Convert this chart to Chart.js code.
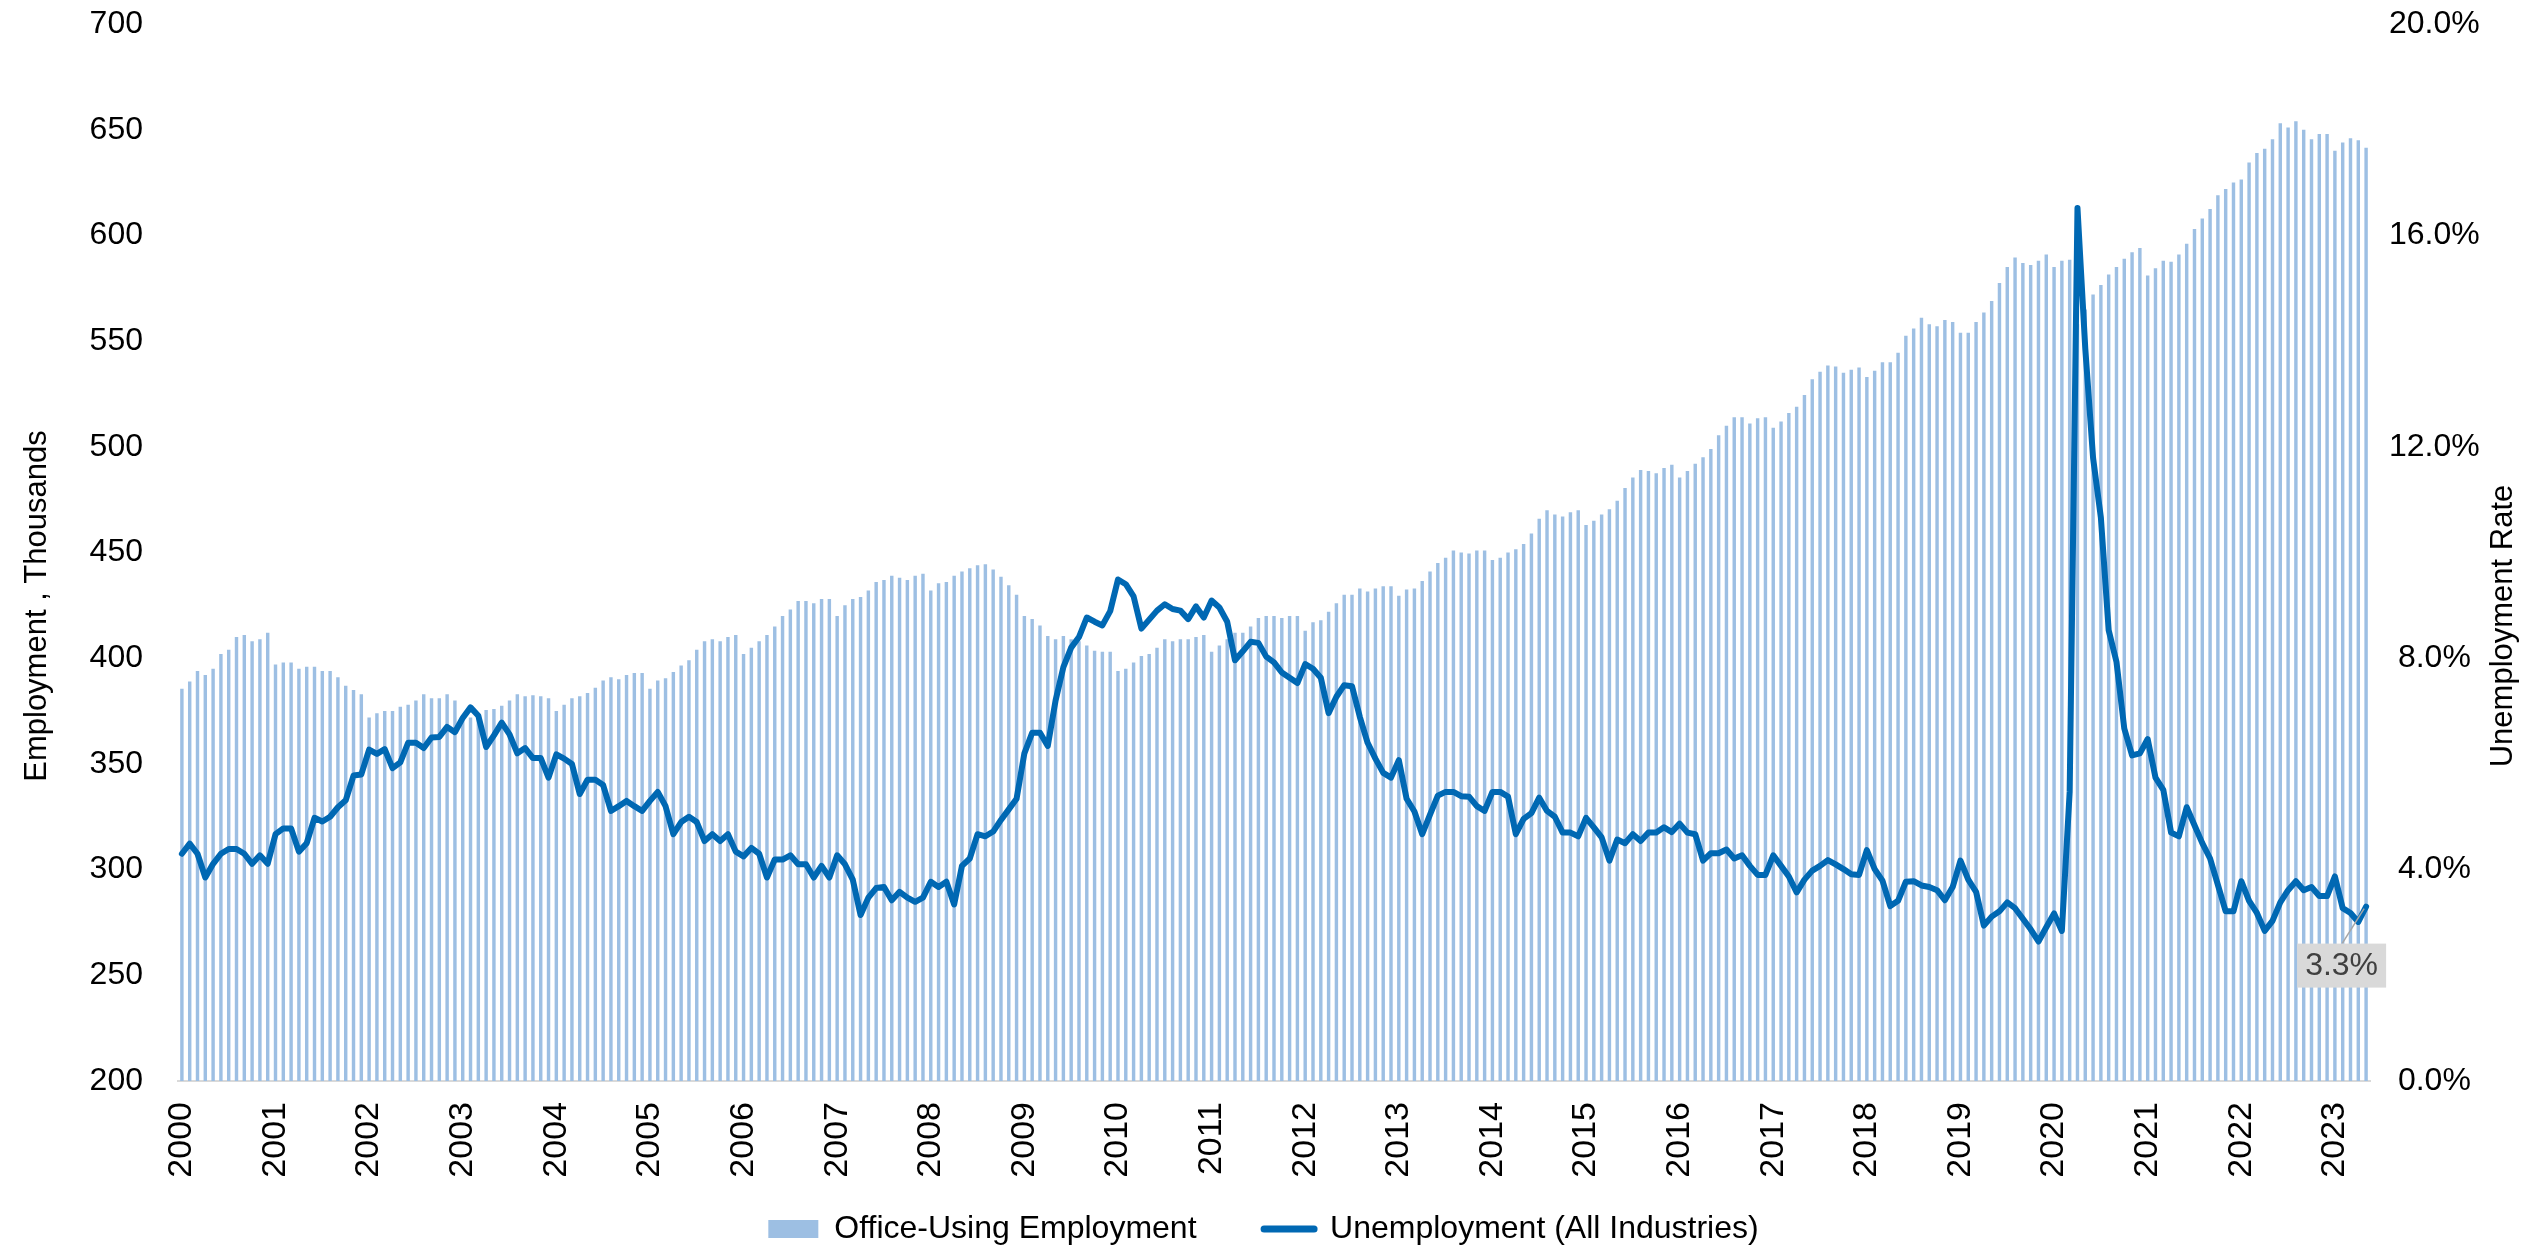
<!DOCTYPE html>
<html>
<head>
<meta charset="utf-8">
<title>Office-Using Employment and Unemployment</title>
<script src="https://cdn.jsdelivr.net/npm/chart.js@4.4.0/dist/chart.umd.min.js"></script>
<style>
  html, body { margin: 0; padding: 0; background: #fff; }
  #wrap { width: 2527px; height: 1246px; position: relative; }
</style>
</head>
<body>
<div id="wrap"><canvas id="officeChart"></canvas></div>
<script>
document.addEventListener("DOMContentLoaded", function () {

    /**
     * data, one value per month (Jan 2000 - May 2023)
     */
    const years = ['2000', '2001', '2002', '2003', '2004', '2005', '2006', '2007', '2008', '2009', '2010', '2011',
                   '2012', '2013', '2014', '2015', '2016', '2017', '2018', '2019', '2020', '2021', '2022', '2023'];

    // office-using employment, thousands
    const officeEmployment = [
        385.5, 389, 394, 392, 395, 402, 404, 410, 411, 408, 409, 412,
        397, 398, 398, 395, 396, 396, 394, 394, 391, 387, 385, 383,
        372, 374, 375, 375, 377, 378, 380, 383, 381, 381, 383, 380,
        371, 372, 373, 375.5, 376, 377.5, 380, 383, 382, 382.5, 382, 381,
        375, 378, 381, 382, 383.5, 386, 389.5, 391, 390, 392, 393, 393,
        385.5, 389.5, 390.5, 393.5, 396.5, 399, 404, 408, 409, 408, 410, 411,
        402, 405, 408, 411, 415, 420, 423, 427, 427, 426, 428, 428,
        420, 425, 428, 429, 432, 436, 437, 439, 438, 437, 439, 440,
        432, 435.5, 436, 439, 441, 442.5, 444, 444.5, 442, 438.5, 434.5, 430,
        420, 418.5, 415.5, 410.5, 409, 410.5, 409, 408, 406, 403.5, 403, 403,
        394, 395, 398, 401, 402, 405, 409, 408, 409, 409, 410, 411,
        403, 406, 409, 412, 412, 415, 419, 420, 420, 419, 420, 420,
        413, 417, 418, 422, 426, 430, 430, 433, 431.5, 433, 434, 434,
        429.5, 432.5, 433, 436.5, 441, 445, 447.5, 451, 450, 449.5, 451, 451,
        446.5, 447.5, 450, 451.5, 454, 459, 466, 470, 468, 467, 469, 470,
        463, 465, 468, 470.5, 474.5, 480.5, 485.5, 489, 488.5, 487.5, 490, 491.5,
        485.5, 488.5, 492, 495, 499, 505.5, 510, 514, 514, 511, 513.5, 514,
        509, 512, 516, 519, 524.5, 532, 535.5, 538.5, 538, 535, 536.5, 537.5,
        533, 536, 540, 540, 544.5, 552.5, 556, 561, 558, 557, 560, 559,
        554, 554, 559, 563.5, 569, 577.5, 585, 589.5, 587, 586, 588, 591,
        585, 588, 588.5, 558, 565, 572, 576.5, 581.5, 585, 589, 592, 594,
        581, 584.5, 588, 587.5, 591, 596, 603, 608, 612.5, 619, 622, 625,
        626.5, 634.5, 639, 641, 645.5, 653, 651, 654, 650, 645.5, 648, 648,
        640, 644, 646, 645, 641.5
    ];

    // unemployment rate, all industries, percent
    const unemploymentRate = [
        4.30, 4.49, 4.30, 3.85, 4.11, 4.30, 4.39, 4.39, 4.30, 4.11, 4.27, 4.11,
        4.67, 4.78, 4.78, 4.34, 4.50, 4.98, 4.91, 5.00, 5.18, 5.31, 5.78, 5.80,
        6.27, 6.19, 6.28, 5.92, 6.03, 6.40, 6.40, 6.30, 6.50, 6.51, 6.70, 6.60,
        6.87, 7.07, 6.91, 6.32, 6.54, 6.78, 6.56, 6.20, 6.30, 6.11, 6.11, 5.74,
        6.18, 6.10, 6.00, 5.43, 5.70, 5.70, 5.60, 5.11, 5.20, 5.30, 5.20, 5.11,
        5.30, 5.47, 5.20, 4.67, 4.90, 5.00, 4.90, 4.54, 4.67, 4.54, 4.67, 4.34,
        4.25, 4.41, 4.30, 3.85, 4.19, 4.19, 4.27, 4.10, 4.10, 3.85, 4.07, 3.85,
        4.27, 4.10, 3.81, 3.14, 3.47, 3.65, 3.67, 3.42, 3.58, 3.47, 3.39, 3.47,
        3.77, 3.67, 3.77, 3.34, 4.07, 4.21, 4.67, 4.63, 4.72, 4.94, 5.14, 5.34,
        6.20, 6.59, 6.59, 6.34, 7.20, 7.83, 8.20, 8.40, 8.77, 8.69, 8.62, 8.89,
        9.49, 9.40, 9.17, 8.56, 8.73, 8.90, 9.02, 8.93, 8.90, 8.74, 8.98, 8.77,
        9.09, 8.96, 8.69, 7.96, 8.13, 8.31, 8.29, 8.03, 7.92, 7.73, 7.63, 7.53,
        7.89, 7.80, 7.63, 6.96, 7.27, 7.49, 7.47, 6.89, 6.40, 6.10, 5.83, 5.74,
        6.07, 5.34, 5.10, 4.67, 5.04, 5.40, 5.47, 5.47, 5.39, 5.38, 5.20, 5.11,
        5.47, 5.47, 5.38, 4.67, 4.96, 5.07, 5.36, 5.11, 5.00, 4.70, 4.70, 4.63,
        4.98, 4.80, 4.61, 4.17, 4.57, 4.50, 4.67, 4.54, 4.70, 4.70, 4.80, 4.71,
        4.87, 4.70, 4.67, 4.17, 4.31, 4.31, 4.38, 4.21, 4.27, 4.07, 3.90, 3.90,
        4.27, 4.07, 3.87, 3.57, 3.81, 3.98, 4.07, 4.18, 4.10, 4.01, 3.91, 3.90,
        4.37, 4.01, 3.79, 3.31, 3.41, 3.77, 3.78, 3.70, 3.67, 3.61, 3.42, 3.67,
        4.17, 3.81, 3.58, 2.94, 3.11, 3.21, 3.38, 3.27, 3.07, 2.87, 2.64, 2.91,
        3.17, 2.84, 5.47, 16.52, 13.86, 11.79, 10.66, 8.53, 7.93, 6.67, 6.16, 6.20,
        6.47, 5.74, 5.51, 4.70, 4.63, 5.18, 4.84, 4.50, 4.21, 3.71, 3.21, 3.21,
        3.78, 3.41, 3.18, 2.84, 3.03, 3.38, 3.61, 3.78, 3.61, 3.67, 3.50, 3.50,
        3.87, 3.27, 3.18, 3.01, 3.30
    ];

    const barColor = '#9DBFE3';
    const lineColor = '#0068B3';
    const fontFamily = '"Liberation Sans", Arial, sans-serif';

    // month categories, e.g. 2000-01 ... 2023-05
    const months = [];
    years.forEach(function (y) {
        for (let m = 1; m <= 12; m++) months.push(y + '-' + String(m).padStart(2, '0'));
    });
    months.length = officeEmployment.length;

    Chart.defaults.font.family = fontFamily;
    Chart.defaults.color = '#000';

    // invisible tick marks give the label gap without adding padding above the plot
    function hiddenTicks(len) {
        return { display: true, drawOnChartArea: false, drawTicks: true, tickLength: len, color: 'rgba(0,0,0,0)' };
    }

    /**
     * axis titles (both read bottom to top) and the callout on the last point
     */
    const overlayPlugin = {
        id: 'overlay',
        afterDraw(chart) {
            const ctx = chart.ctx;
            ctx.save();
            ctx.fillStyle = '#000';
            ctx.font = '31px ' + fontFamily;
            ctx.textAlign = 'center';
            ctx.textBaseline = 'middle';
            [[37, 606, 'Employment , Thousands'], [2503, 626, 'Unemployment Rate']].forEach(function (t) {
                ctx.save();
                ctx.translate(t[0], t[1]);
                ctx.rotate(-Math.PI / 2);
                ctx.fillText(t[2], 0, 0);
                ctx.restore();
            });

            const meta = chart.getDatasetMeta(1);
            const last = meta.data[meta.data.length - 1];
            const px = last.x, py = last.y;
            const label = unemploymentRate[unemploymentRate.length - 1].toFixed(1) + '%';
            const bw = 89, bh = 44;
            const bx = px - 69, by = py + 37;

            ctx.strokeStyle = '#A6A6A6';
            ctx.lineWidth = 1.5;
            ctx.beginPath();
            ctx.moveTo(px - 24, by);
            ctx.lineTo(px - 2, py + 2);
            ctx.stroke();

            ctx.fillStyle = '#D9D9D9';
            ctx.fillRect(bx, by, bw, bh);
            ctx.fillStyle = '#404040';
            ctx.font = '32px ' + fontFamily;
            ctx.fillText(label, bx + bw / 2, by + bh / 2 + 1);
            ctx.restore();
        }
    };

    new Chart(document.getElementById('officeChart'), {
        type: 'bar',
        data: {
            labels: months,
            datasets: [{
                label: 'Office-Using Employment',
                data: officeEmployment,
                yAxisID: 'y',
                backgroundColor: barColor,
                borderWidth: 0,
                barPercentage: 0.44,
                categoryPercentage: 1.0,
                order: 2
            }, {
                type: 'line',
                label: 'Unemployment (All Industries)',
                data: unemploymentRate,
                yAxisID: 'y2',
                borderColor: lineColor,
                backgroundColor: lineColor,
                borderWidth: 6,
                borderJoinStyle: 'round',
                borderCapStyle: 'round',
                pointRadius: 0,
                pointHoverRadius: 0,
                tension: 0,
                order: 1
            }]
        },
        options: {
            responsive: true,
            maintainAspectRatio: false,
            animation: false,
            layout: { padding: { top: 24, bottom: -9, left: 0, right: 0 } },
            plugins: {
                tooltip: { enabled: false },
                legend: {
                    position: 'bottom',
                    labels: {
                        usePointStyle: true,
                        pointStyleWidth: 50,
                        boxHeight: 18,
                        padding: 32,
                        color: '#000',
                        font: { size: 32 },
                        generateLabels: function (chart) {
                            return chart.data.datasets.map(function (ds, i) {
                                return {
                                    // trailing spaces widen the gap between the two entries
                                    text: i ? ds.label : ds.label + '    ',
                                    fillStyle: i ? lineColor : barColor,
                                    strokeStyle: i ? lineColor : barColor,
                                    lineWidth: i ? 7 : 0,
                                    lineCap: 'round',
                                    pointStyle: i ? 'line' : 'rect',
                                    hidden: false,
                                    datasetIndex: i
                                };
                            });
                        }
                    }
                }
            },
            scales: {
                x: {
                    grid: { display: false, drawTicks: false },
                    border: { display: true, color: '#D9D9D9', width: 2 },
                    ticks: {
                        autoSkip: false,
                        minRotation: 90,
                        maxRotation: 90,
                        padding: 21,
                        color: '#000',
                        font: { size: 34 },
                        callback: function (value) {
                            const label = this.getLabelForValue(value);
                            return label.endsWith('-01') ? label.slice(0, 4) : '';
                        }
                    },
                    afterFit: function (scale) { scale.height = 100; }
                },
                y: {
                    position: 'left',
                    min: 200,
                    max: 700,
                    grid: hiddenTicks(35),
                    border: { display: false },
                    ticks: { stepSize: 50, padding: 0, color: '#000', font: { size: 32 } },
                    afterFit: function (scale) { scale.width = 178; }
                },
                y2: {
                    position: 'right',
                    min: 0,
                    max: 20,
                    grid: hiddenTicks(19),
                    border: { display: false },
                    ticks: {
                        stepSize: 4,
                        padding: 0,
                        crossAlign: 'center',
                        color: '#000',
                        font: { size: 32 },
                        callback: function (v) { return v.toFixed(1) + '%'; }
                    },
                    afterFit: function (scale) { scale.width = 157; }
                }
            }
        },
        plugins: [overlayPlugin]
    });
});
</script>
</body>
</html>
